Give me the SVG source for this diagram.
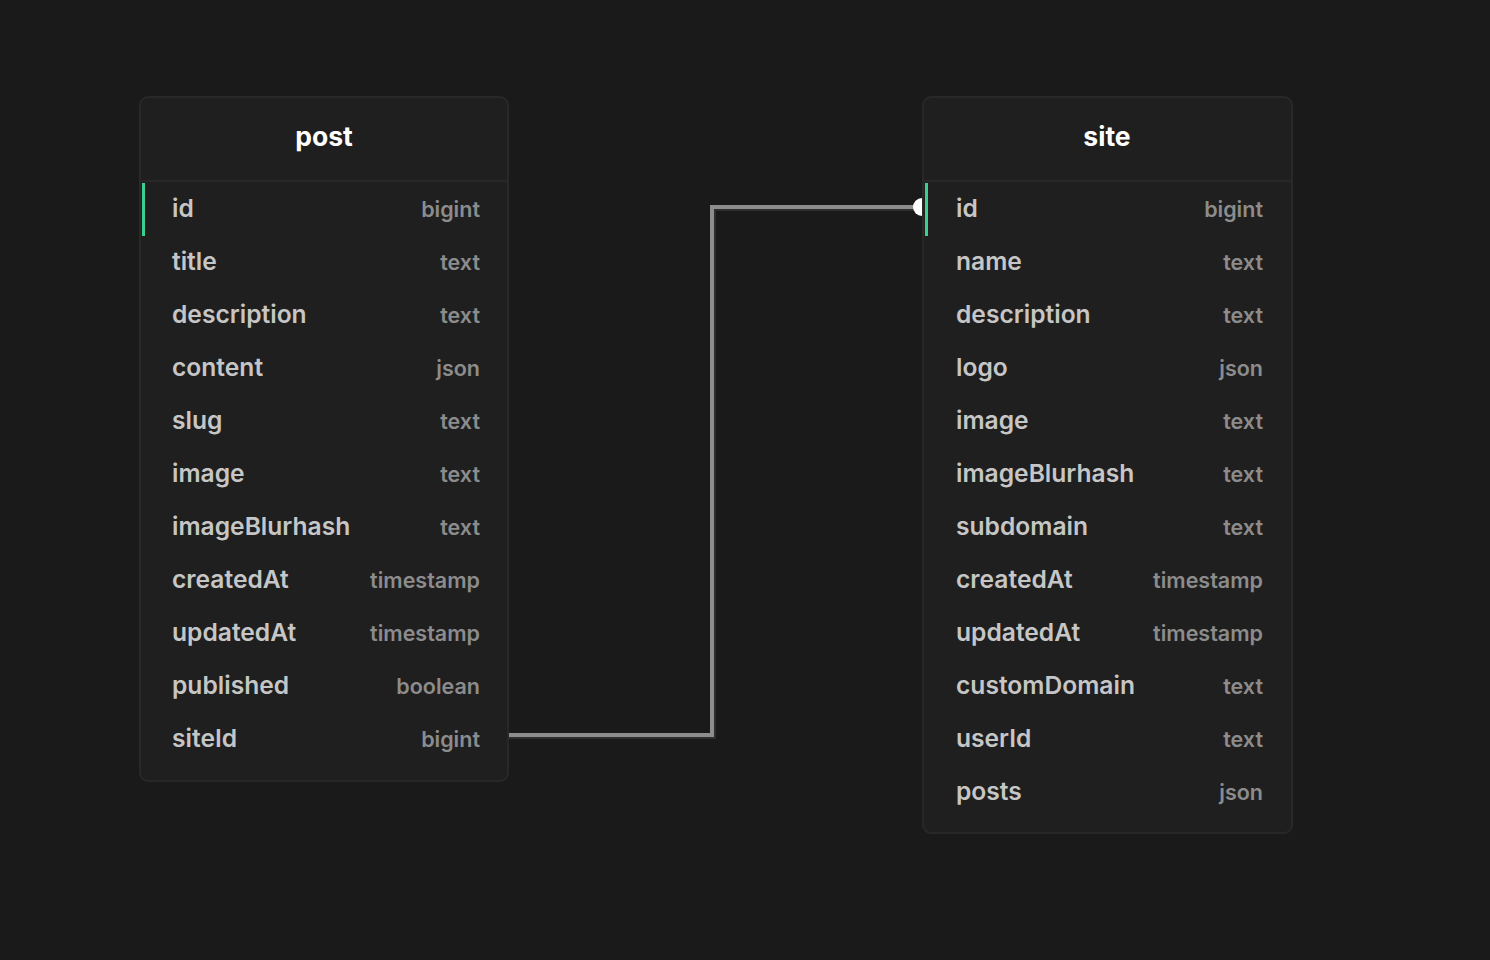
<svg xmlns="http://www.w3.org/2000/svg" width="1490" height="960" viewBox="0 0 1490 960">
<style>
.card{fill:#1f1f1f;stroke:#282828;stroke-width:2}
.hdr{stroke:#282828;stroke-width:2}
.title{font-family:Inter,"Noto Sans",sans-serif;font-weight:700;font-size:26.5px;fill:#ffffff;text-anchor:middle}
.f{font-family:Inter,"Noto Sans",sans-serif;font-weight:600;font-size:24.6px;fill:#c6c6c6}
.t{font-family:Inter,"Noto Sans",sans-serif;font-weight:600;font-size:21.5px;fill:#8c8c8c;text-anchor:end}
.pk{fill:#3ecf8e}
</style>
<rect width="1490" height="960" fill="#1a1a1a"/>
<g id="connectors">
<polyline points="509,737 714,737 714,209 922,209" fill="none" stroke="#2e2e2e" stroke-width="4"/>
<polyline points="509,735 712,735 712,207 920,207" fill="none" stroke="#8d8d8d" stroke-width="4"/>
<path d="M922,198 A9,9 0 0 0 922,216 Z" fill="#ffffff"/>
</g>
<g id="post">
<rect class="card" x="140" y="97" width="368" height="684" rx="8"/>
<line class="hdr" x1="141" y1="181" x2="507" y2="181"/>
<text class="title" x="324" y="146">post</text>
<rect class="pk" x="142" y="183" width="3" height="53"/>
<text class="f" x="172" y="217">id</text><text class="t" x="480" y="217">bigint</text>
<text class="f" x="172" y="270">title</text><text class="t" x="480" y="270">text</text>
<text class="f" x="172" y="323">description</text><text class="t" x="480" y="323">text</text>
<text class="f" x="172" y="376">content</text><text class="t" x="480" y="376">json</text>
<text class="f" x="172" y="429">slug</text><text class="t" x="480" y="429">text</text>
<text class="f" x="172" y="482">image</text><text class="t" x="480" y="482">text</text>
<text class="f" x="172" y="535">imageBlurhash</text><text class="t" x="480" y="535">text</text>
<text class="f" x="172" y="588">createdAt</text><text class="t" x="480" y="588">timestamp</text>
<text class="f" x="172" y="641">updatedAt</text><text class="t" x="480" y="641">timestamp</text>
<text class="f" x="172" y="694">published</text><text class="t" x="480" y="694">boolean</text>
<text class="f" x="172" y="747">siteId</text><text class="t" x="480" y="747">bigint</text>
</g>
<g id="site">
<rect class="card" x="923" y="97" width="369" height="736" rx="8"/>
<line class="hdr" x1="924" y1="181" x2="1291" y2="181"/>
<text class="title" x="1107" y="146">site</text>
<rect class="pk" x="925" y="183" width="3" height="53"/>
<text class="f" x="956" y="217">id</text><text class="t" x="1263" y="217">bigint</text>
<text class="f" x="956" y="270">name</text><text class="t" x="1263" y="270">text</text>
<text class="f" x="956" y="323">description</text><text class="t" x="1263" y="323">text</text>
<text class="f" x="956" y="376">logo</text><text class="t" x="1263" y="376">json</text>
<text class="f" x="956" y="429">image</text><text class="t" x="1263" y="429">text</text>
<text class="f" x="956" y="482">imageBlurhash</text><text class="t" x="1263" y="482">text</text>
<text class="f" x="956" y="535">subdomain</text><text class="t" x="1263" y="535">text</text>
<text class="f" x="956" y="588">createdAt</text><text class="t" x="1263" y="588">timestamp</text>
<text class="f" x="956" y="641">updatedAt</text><text class="t" x="1263" y="641">timestamp</text>
<text class="f" x="956" y="694">customDomain</text><text class="t" x="1263" y="694">text</text>
<text class="f" x="956" y="747">userId</text><text class="t" x="1263" y="747">text</text>
<text class="f" x="956" y="800">posts</text><text class="t" x="1263" y="800">json</text>
</g>
</svg>
